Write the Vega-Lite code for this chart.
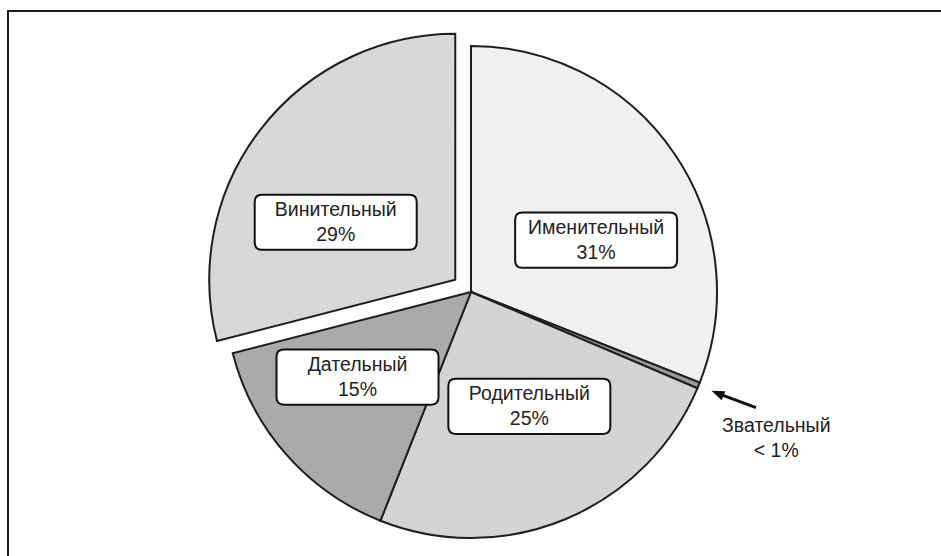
{
  "$schema": "https://vega.github.io/schema/vega-lite/v6.json",
  "width": 933,
  "height": 545,
  "autosize": {"type": "none"},
  "padding": {"left": 8, "top": 11, "right": 0, "bottom": 0},
  "background": "white",
  "config": {
    "view": {"stroke": "#1e1e1e", "strokeWidth": 2, "strokeDash": [933, 1478, 545]},
    "font": "Liberation Sans"
  },
  "data": {
    "values": [
      {"case": "Именительный", "value": 31.0, "pct": "31%"},
      {"case": "Звательный", "value": 0.4, "pct": "< 1%"},
      {"case": "Родительный", "value": 24.6, "pct": "25%"},
      {"case": "Дательный", "value": 15.0, "pct": "15%"},
      {"case": "Винительный", "value": 29.0, "pct": "29%"}
    ]
  },
  "transform": [
    {"window": [{"op": "sum", "field": "value", "as": "cum"}], "frame": [null, 0]},
    {"joinaggregate": [{"op": "sum", "field": "value", "as": "total"}]},
    {"calculate": "(datum.cum - datum.value) / datum.total", "as": "a0"},
    {"calculate": "datum.cum / datum.total", "as": "a1"},
    {"calculate": "(datum.cum - datum.value / 2) / datum.total * 2 * PI", "as": "mid"},
    {"calculate": "datum.case == 'Винительный' ? 0.081 : 0", "as": "explode"},
    {"calculate": "datum.explode * sin(datum.mid)", "as": "cx"},
    {"calculate": "datum.explode * cos(datum.mid)", "as": "cy"},
    {"calculate": "datum.cx + 0.615 * sin(datum.mid)", "as": "bx"},
    {"calculate": "datum.cy + 0.455 * cos(datum.mid) - 0.045", "as": "by"},
    {"calculate": "[datum.case, datum.pct]", "as": "lines"}
  ],
  "layer": [
    {
      "mark": {"type": "arc", "radius": 246, "stroke": "#1e1e1e", "strokeWidth": 2},
      "encoding": {
        "theta": {"field": "a0", "type": "quantitative", "scale": {"domain": [0, 1]}},
        "theta2": {"field": "a1"},
        "x": {"field": "cx", "type": "quantitative", "scale": {"domain": [-1.88211, 1.91057], "nice": false, "zero": false}, "axis": null},
        "y": {"field": "cy", "type": "quantitative", "scale": {"domain": [-1.07317, 1.14228], "nice": false, "zero": false}, "axis": null},
        "fill": {
          "field": "case",
          "type": "nominal",
          "scale": {
            "domain": ["Именительный", "Звательный", "Родительный", "Дательный", "Винительный"],
            "range": ["#f0f0f0", "#999999", "#d4d4d4", "#aaaaaa", "#d8d8d8"]
          },
          "legend": null
        }
      }
    },
    {
      "transform": [{"filter": "datum.case != 'Звательный'"}],
      "mark": {
        "type": "point",
        "shape": "M -0.91 -0.34 L 0.91 -0.34 Q 1 -0.34 1 -0.25 L 1 0.25 Q 1 0.34 0.91 0.34 L -0.91 0.34 Q -1 0.34 -1 0.25 L -1 -0.25 Q -1 -0.34 -0.91 -0.34 Z",
        "size": 26244,
        "filled": true,
        "fill": "white",
        "stroke": "#111111",
        "strokeWidth": 2,
        "opacity": 1
      },
      "encoding": {
        "x": {"field": "bx", "type": "quantitative", "scale": {"domain": [-1.88211, 1.91057], "nice": false, "zero": false}, "axis": null},
        "y": {"field": "by", "type": "quantitative", "scale": {"domain": [-1.07317, 1.14228], "nice": false, "zero": false}, "axis": null}
      }
    },
    {
      "transform": [{"filter": "datum.case != 'Звательный'"}],
      "mark": {"type": "text", "fontSize": 19.5, "lineHeight": 25, "dy": -12.5, "align": "center", "baseline": "middle", "fill": "#222222"},
      "encoding": {
        "x": {"field": "bx", "type": "quantitative", "scale": {"domain": [-1.88211, 1.91057], "nice": false, "zero": false}, "axis": null},
        "y": {"field": "by", "type": "quantitative", "scale": {"domain": [-1.07317, 1.14228], "nice": false, "zero": false}, "axis": null},
        "text": {"field": "lines"}
      }
    },
    {
      "transform": [
        {"filter": "datum.case == 'Звательный'"},
        {"calculate": "1.376 * sin(datum.mid + 0.057)", "as": "lx"},
        {"calculate": "1.376 * cos(datum.mid + 0.057)", "as": "ly"}
      ],
      "mark": {"type": "text", "fontSize": 19.5, "lineHeight": 25, "dy": -12.5, "align": "center", "baseline": "middle", "fill": "#222222"},
      "encoding": {
        "x": {"field": "lx", "type": "quantitative", "scale": {"domain": [-1.88211, 1.91057], "nice": false, "zero": false}, "axis": null},
        "y": {"field": "ly", "type": "quantitative", "scale": {"domain": [-1.07317, 1.14228], "nice": false, "zero": false}, "axis": null},
        "text": {"field": "lines"}
      }
    },
    {
      "transform": [
        {"filter": "datum.case == 'Звательный'"},
        {"calculate": "1.25 * sin(datum.mid - 0.004)", "as": "rx1"},
        {"calculate": "1.25 * cos(datum.mid - 0.004)", "as": "ry1"},
        {"calculate": "1.09 * sin(datum.mid)", "as": "rx2"},
        {"calculate": "1.09 * cos(datum.mid)", "as": "ry2"}
      ],
      "mark": {"type": "rule", "stroke": "#111111", "strokeWidth": 3},
      "encoding": {
        "x": {"field": "rx1", "type": "quantitative", "scale": {"domain": [-1.88211, 1.91057], "nice": false, "zero": false}, "axis": null},
        "y": {"field": "ry1", "type": "quantitative", "scale": {"domain": [-1.07317, 1.14228], "nice": false, "zero": false}, "axis": null},
        "x2": {"field": "rx2"},
        "y2": {"field": "ry2"}
      }
    },
    {
      "transform": [
        {"filter": "datum.case == 'Звательный'"},
        {"calculate": "1.083 * sin(datum.mid)", "as": "hx"},
        {"calculate": "1.083 * cos(datum.mid)", "as": "hy"},
        {"calculate": "datum.mid * 180 / PI + 180", "as": "ang"}
      ],
      "mark": {
        "type": "point",
        "shape": "M 0 -1 L 0.75 1 L -0.75 1 Z",
        "size": 169,
        "filled": true,
        "fill": "#111111",
        "opacity": 1,
        "strokeWidth": 0
      },
      "encoding": {
        "x": {"field": "hx", "type": "quantitative", "scale": {"domain": [-1.88211, 1.91057], "nice": false, "zero": false}, "axis": null},
        "y": {"field": "hy", "type": "quantitative", "scale": {"domain": [-1.07317, 1.14228], "nice": false, "zero": false}, "axis": null},
        "angle": {"field": "ang", "type": "quantitative", "scale": null}
      }
    }
  ]
}
